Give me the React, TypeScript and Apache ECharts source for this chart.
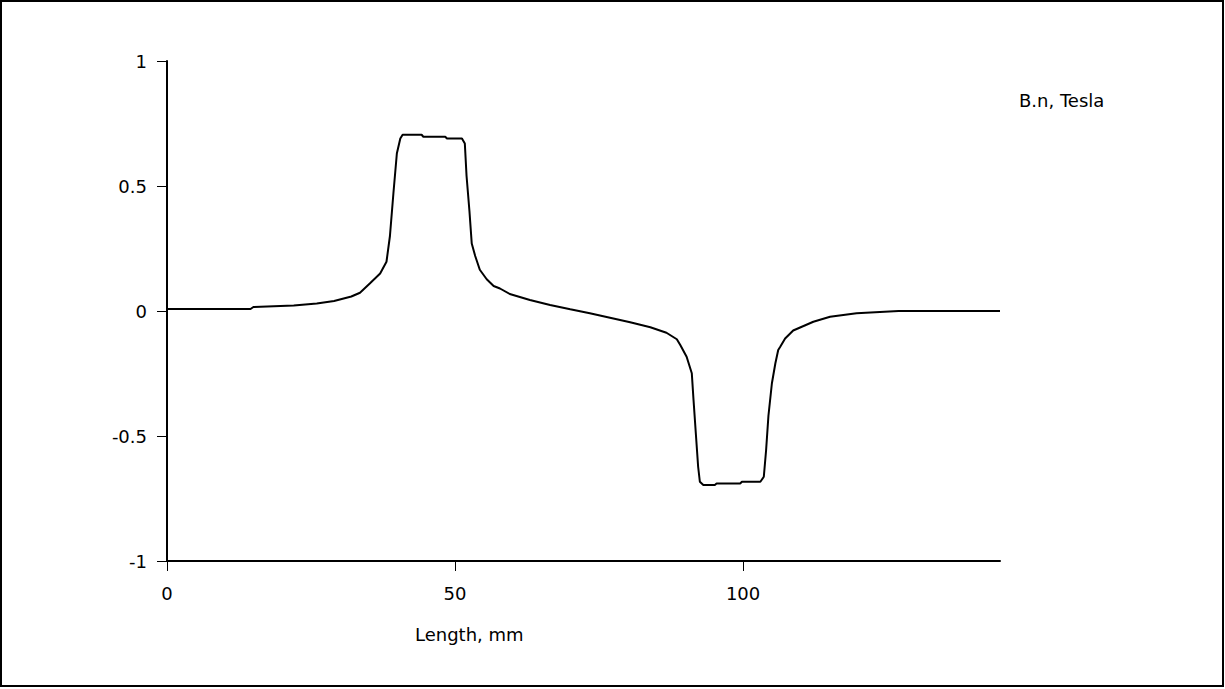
import React, { useEffect, useRef } from "react";
import * as echarts from "echarts";

const lengthMm: number[] = [
  0, 14.5, 15, 22, 26, 29, 32, 33.5, 35.2, 37, 38.1, 38.7, 39.3, 39.9, 40.5, 40.9,
  44.2, 44.5, 48.3, 48.6, 51.2, 51.7, 52.0, 52.5, 52.9, 53.5, 54.3, 55.5, 56.7,
  57.8, 59.5, 63, 66.5, 70, 73.4, 76.9, 80.4, 83.9, 86.7, 88.5, 89.1, 90.2, 91.1,
  91.4, 91.8, 92.2, 92.5, 93.1, 95.1, 95.4, 99.5, 99.8, 103, 103.6, 104, 104.4,
  105, 105.6, 106.1, 106.4, 107.3, 108.7, 109.9, 112.2, 115.1, 119.7, 127, 144.6,
];

const bnTesla: number[] = [
  0.008, 0.008, 0.016, 0.022, 0.03, 0.04, 0.058, 0.073, 0.11, 0.15, 0.197, 0.3,
  0.47, 0.63, 0.69, 0.705, 0.705, 0.697, 0.697, 0.69, 0.69, 0.67, 0.54, 0.4,
  0.27, 0.22, 0.165, 0.127, 0.1, 0.09, 0.068, 0.044, 0.024, 0.007, -0.009,
  -0.027, -0.045, -0.065, -0.087, -0.113, -0.136, -0.183, -0.249, -0.356, -0.49,
  -0.623, -0.683, -0.696, -0.696, -0.69, -0.69, -0.683, -0.683, -0.663, -0.556,
  -0.42, -0.29, -0.21, -0.156, -0.145, -0.11, -0.078, -0.066, -0.043, -0.023,
  -0.009, 0.0, 0.0,
];

const xTickValues: number[] = [0, 50, 100];
const yTickValues: number[] = [-1, -0.5, 0, 0.5, 1];

const xAxisTitle = "Length, mm";
const seriesTitle = "B.n, Tesla";

const FONT = "'DejaVu Sans', Verdana, sans-serif";

export default function App() {
  const ref = useRef<HTMLDivElement>(null);

  useEffect(() => {
    if (!ref.current) return;
    const chart = echarts.init(ref.current, undefined, { renderer: "svg" });
    const data = lengthMm.map((x, i) => [x, bnTesla[i]]);
    chart.setOption({
      animation: false,
      backgroundColor: "#ffffff",
      grid: { left: 167, top: 61, right: 225, bottom: 128, containLabel: false },
      xAxis: {
        type: "value",
        min: 0,
        max: 144.6,
        interval: 50,
        position: "bottom",
        axisLine: { show: true, onZero: false, lineStyle: { color: "#000", width: 2 } },
        axisTick: {
          show: true,
          inside: false,
          length: 10,
          customValues: xTickValues,
          lineStyle: { color: "#000", width: 1 },
        },
        axisLabel: {
          show: true,
          margin: 23,
          customValues: xTickValues,
          color: "#000",
          fontSize: 18,
          fontFamily: FONT,
        },
        splitLine: { show: false },
      },
      yAxis: {
        type: "value",
        min: -1,
        max: 1,
        interval: 0.5,
        axisLine: { show: true, onZero: false, lineStyle: { color: "#000", width: 2 } },
        axisTick: {
          show: true,
          inside: false,
          length: 10,
          customValues: yTickValues,
          lineStyle: { color: "#000", width: 1 },
        },
        axisLabel: {
          show: true,
          margin: 20,
          customValues: yTickValues,
          color: "#000",
          fontSize: 18,
          fontFamily: FONT,
        },
        splitLine: { show: false },
      },
      series: [
        {
          type: "line",
          name: seriesTitle,
          data,
          showSymbol: false,
          smooth: false,
          lineStyle: { color: "#000", width: 2 },
          itemStyle: { color: "#000" },
        },
      ],
      graphic: [
        {
          type: "rect",
          shape: { x: 1, y: 1, width: 1222, height: 685 },
          style: { fill: "none", stroke: "#000", lineWidth: 2 },
          silent: true,
        },
        {
          type: "text",
          x: 415,
          y: 634,
          style: {
            text: xAxisTitle,
            fill: "#000",
            fontSize: 18,
            fontFamily: FONT,
            textAlign: "left",
            textVerticalAlign: "middle",
          },
        },
        {
          type: "text",
          x: 1019,
          y: 100,
          style: {
            text: seriesTitle,
            fill: "#000",
            fontSize: 18,
            fontFamily: FONT,
            textAlign: "left",
            textVerticalAlign: "middle",
          },
        },
      ],
    });
    return () => {
      chart.dispose();
    };
  }, []);

  return (
    <div
      ref={ref}
      style={{
        position: "fixed",
        left: 0,
        top: 0,
        width: 1225,
        height: 689,
        background: "#fff",
      }}
    />
  );
}
